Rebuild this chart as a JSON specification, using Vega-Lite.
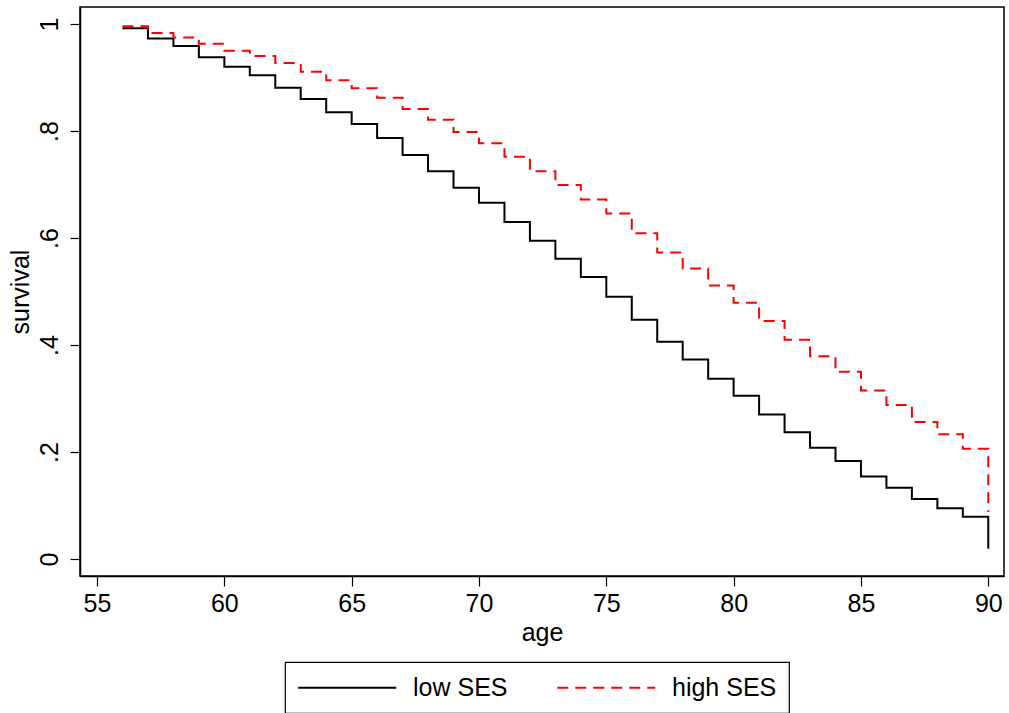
{
  "$schema": "https://vega.github.io/schema/vega-lite/v6.json",
  "width": 924,
  "height": 569,
  "autosize": {"type": "none"},
  "padding": {"left": 80, "top": 7, "right": 5, "bottom": 137},
  "background": "white",
  "config": {
    "font": "Liberation Sans",
    "view": {"stroke": "black", "strokeWidth": 1.5},
    "axis": {"grid": false, "domainColor": "black", "domainWidth": 1.5, "tickColor": "black", "tickWidth": 1.2, "tickSize": 10, "labelFontSize": 25, "titleFontSize": 25, "labelColor": "black", "titleColor": "black", "titleFontWeight": "normal", "labelFont": "Liberation Sans", "titleFont": "Liberation Sans"},
    "legend": {"title": null, "orient": "none", "legendX": 205, "legendY": 655, "direction": "horizontal", "columns": 2,
        "strokeColor": "black", "strokeWidth": 1.2, "padding": 12, "symbolType": "M-1,0H7", "symbolSize": 600, "symbolStrokeWidth": 2,
        "labelFontSize": 25, "labelColor": "black", "labelOffset": 89, "columnPadding": 45, "labelFont": "Liberation Sans"}
  },
  "data": {"values": [
    {"age": 56, "surv": 0.992, "group": "low SES"},
    {"age": 57, "surv": 0.973, "group": "low SES"},
    {"age": 58, "surv": 0.959, "group": "low SES"},
    {"age": 59, "surv": 0.938, "group": "low SES"},
    {"age": 60, "surv": 0.920, "group": "low SES"},
    {"age": 61, "surv": 0.904, "group": "low SES"},
    {"age": 62, "surv": 0.881, "group": "low SES"},
    {"age": 63, "surv": 0.860, "group": "low SES"},
    {"age": 64, "surv": 0.835, "group": "low SES"},
    {"age": 65, "surv": 0.813, "group": "low SES"},
    {"age": 66, "surv": 0.787, "group": "low SES"},
    {"age": 67, "surv": 0.755, "group": "low SES"},
    {"age": 68, "surv": 0.725, "group": "low SES"},
    {"age": 69, "surv": 0.694, "group": "low SES"},
    {"age": 70, "surv": 0.666, "group": "low SES"},
    {"age": 71, "surv": 0.630, "group": "low SES"},
    {"age": 72, "surv": 0.595, "group": "low SES"},
    {"age": 73, "surv": 0.561, "group": "low SES"},
    {"age": 74, "surv": 0.527, "group": "low SES"},
    {"age": 75, "surv": 0.490, "group": "low SES"},
    {"age": 76, "surv": 0.447, "group": "low SES"},
    {"age": 77, "surv": 0.406, "group": "low SES"},
    {"age": 78, "surv": 0.373, "group": "low SES"},
    {"age": 79, "surv": 0.337, "group": "low SES"},
    {"age": 80, "surv": 0.305, "group": "low SES"},
    {"age": 81, "surv": 0.270, "group": "low SES"},
    {"age": 82, "surv": 0.237, "group": "low SES"},
    {"age": 83, "surv": 0.208, "group": "low SES"},
    {"age": 84, "surv": 0.183, "group": "low SES"},
    {"age": 85, "surv": 0.154, "group": "low SES"},
    {"age": 86, "surv": 0.133, "group": "low SES"},
    {"age": 87, "surv": 0.112, "group": "low SES"},
    {"age": 88, "surv": 0.095, "group": "low SES"},
    {"age": 89, "surv": 0.079, "group": "low SES"},
    {"age": 90, "surv": 0.019, "group": "low SES"},
    {"age": 56, "surv": 0.996, "group": "high SES"},
    {"age": 57, "surv": 0.983, "group": "high SES"},
    {"age": 58, "surv": 0.975, "group": "high SES"},
    {"age": 59, "surv": 0.963, "group": "high SES"},
    {"age": 60, "surv": 0.950, "group": "high SES"},
    {"age": 61, "surv": 0.940, "group": "high SES"},
    {"age": 62, "surv": 0.927, "group": "high SES"},
    {"age": 63, "surv": 0.911, "group": "high SES"},
    {"age": 64, "surv": 0.895, "group": "high SES"},
    {"age": 65, "surv": 0.880, "group": "high SES"},
    {"age": 66, "surv": 0.862, "group": "high SES"},
    {"age": 67, "surv": 0.841, "group": "high SES"},
    {"age": 68, "surv": 0.821, "group": "high SES"},
    {"age": 69, "surv": 0.798, "group": "high SES"},
    {"age": 70, "surv": 0.777, "group": "high SES"},
    {"age": 71, "surv": 0.752, "group": "high SES"},
    {"age": 72, "surv": 0.725, "group": "high SES"},
    {"age": 73, "surv": 0.699, "group": "high SES"},
    {"age": 74, "surv": 0.672, "group": "high SES"},
    {"age": 75, "surv": 0.646, "group": "high SES"},
    {"age": 76, "surv": 0.609, "group": "high SES"},
    {"age": 77, "surv": 0.573, "group": "high SES"},
    {"age": 78, "surv": 0.543, "group": "high SES"},
    {"age": 79, "surv": 0.511, "group": "high SES"},
    {"age": 80, "surv": 0.479, "group": "high SES"},
    {"age": 81, "surv": 0.445, "group": "high SES"},
    {"age": 82, "surv": 0.410, "group": "high SES"},
    {"age": 83, "surv": 0.379, "group": "high SES"},
    {"age": 84, "surv": 0.350, "group": "high SES"},
    {"age": 85, "surv": 0.315, "group": "high SES"},
    {"age": 86, "surv": 0.288, "group": "high SES"},
    {"age": 87, "surv": 0.256, "group": "high SES"},
    {"age": 88, "surv": 0.233, "group": "high SES"},
    {"age": 89, "surv": 0.206, "group": "high SES"},
    {"age": 90, "surv": 0.088, "group": "high SES"}
  ]},
  "mark": {"type": "line", "interpolate": "step-after", "strokeWidth": 2, "clip": true},
  "encoding": {
    "x": {"field": "age", "type": "quantitative",
      "scale": {"domain": [54.332, 90.617], "nice": false, "zero": false},
      "axis": {"values": [55, 60, 65, 70, 75, 80, 85, 90], "title": "age", "labelPadding": 5, "titlePadding": 4}},
    "y": {"field": "surv", "type": "quantitative",
      "scale": {"domain": [-0.0318, 1.0318], "nice": false, "zero": false},
      "axis": {"values": [0, 0.2, 0.4, 0.6, 0.8, 1], "title": "survival", "labelAngle": -90, "labelAlign": "center", "labelBaseline": "bottom", "labelPadding": 8, "titlePadding": 4,
        "labelExpr": "datum.value == 0 ? '0' : datum.value == 1 ? '1' : replace(format(datum.value, '.1f'), '0.', '.')"}},
    "color": {"field": "group", "type": "nominal",
      "scale": {"domain": ["low SES", "high SES"], "range": ["#000000", "#ff0000"]}},
    "strokeDash": {"field": "group", "type": "nominal",
      "scale": {"domain": ["low SES", "high SES"], "range": [[1, 0], [11, 7]]}}
  }
}
